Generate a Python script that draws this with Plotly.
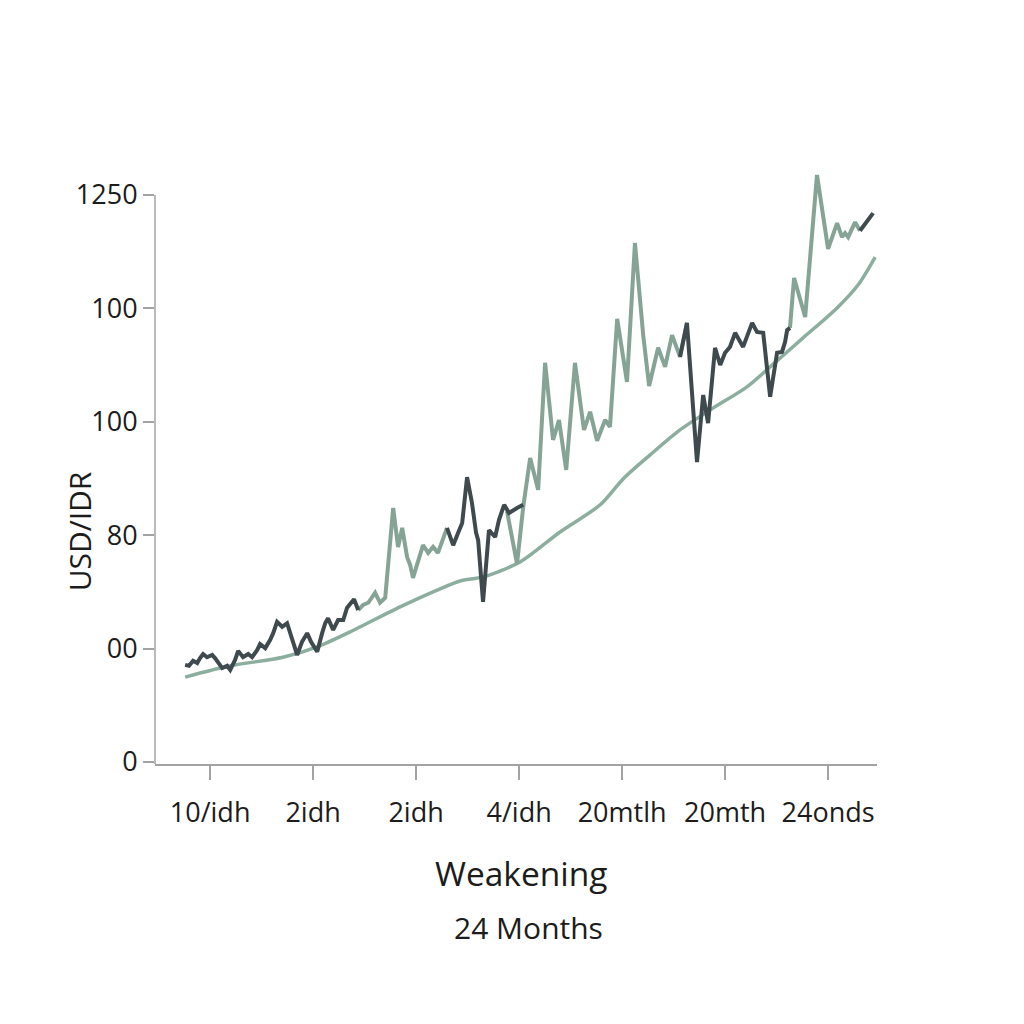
import plotly.graph_objects as go

# ---------------- data ----------------
# x = month index, y = USD/IDR (chart scale)
x_tickvals = [0, 4, 8, 12, 16, 20, 24]
x_ticktext = ["10/idh", "2idh", "2idh", "4/idh", "20mtlh", "20mth", "24onds"]
y_tickvals = [0, 250, 500, 750, 1000, 1250]
y_ticktext = ["0", "00", "80", "100", "100", "1250"]

# smooth trend
trend_x = [-0.97, 0.78, 2.83, 4.16, 5.44, 7.38, 8.82, 9.71, 10.60, 12.04, 13.59, 15.15,
           16.04, 17.09, 18.25, 19.53, 20.85, 21.75, 23.03, 24.35, 25.17, 25.83]
trend_y = [187, 212, 231, 254, 287, 342, 379, 399, 408, 441, 507, 567,
           624, 677, 732, 780, 827, 871, 935, 1001, 1052, 1113]

# rate – dark segments
dark1_x = [-0.97, -0.82, -0.66, -0.50, -0.39, -0.27, -0.12, 0.08, 0.19, 0.31, 0.47, 0.66, 0.78,
           0.97, 1.09, 1.28, 1.48, 1.63, 1.83, 1.94, 2.14, 2.33, 2.45, 2.60, 2.80, 2.99, 3.11,
           3.22, 3.38, 3.57, 3.77, 3.92, 4.16, 4.35, 4.47, 4.58, 4.78, 4.97, 5.17, 5.32, 5.51,
           5.59, 5.75]
dark1_y = [214, 212, 223, 218, 229, 238, 231, 236, 229, 218, 207, 212, 203,
           225, 245, 231, 238, 231, 247, 260, 251, 269, 284, 309, 298, 306, 284,
           262, 236, 265, 284, 265, 243, 284, 306, 317, 291, 313, 313, 340, 353,
           359, 335]
dark2_x = [9.20, 9.44, 9.63, 9.79, 9.98, 10.17, 10.33, 10.41, 10.60, 10.83, 11.07, 11.22,
           11.42, 11.61, 11.92, 12.16]
dark2_y = [516, 478, 505, 527, 628, 571, 505, 489, 353, 511, 496, 534,
           567, 549, 560, 567]
dark3_x = [18.25, 18.52, 18.91, 19.15, 19.34, 19.61, 19.81, 20.00, 20.19, 20.39, 20.70, 21.05,
           21.24, 21.48, 21.75, 22.02, 22.21, 22.33, 22.41, 22.52]
dark3_y = [893, 968, 661, 809, 747, 913, 875, 902, 915, 946, 915, 968,
           948, 946, 805, 902, 904, 926, 952, 957]
dark4_x = [25.24, 25.51, 25.75]
dark4_y = [1171, 1190, 1210]

# rate – light segments
light1_x = [5.75, 5.94, 6.14, 6.41, 6.60, 6.80, 7.11, 7.30, 7.46, 7.65, 7.77, 7.88, 8.27,
            8.47, 8.66, 8.85, 9.20]
light1_y = [335, 346, 351, 373, 351, 362, 560, 474, 516, 452, 434, 406, 478,
            461, 474, 461, 516]
light2_x = [11.53, 11.92, 12.16, 12.43, 12.74, 13.01, 13.32, 13.55, 13.83, 14.17, 14.52, 14.76,
            15.03, 15.34, 15.53, 15.81, 16.19, 16.50, 16.82, 17.05, 17.40, 17.67, 17.94,
            18.25, 18.52]
light2_y = [553, 437, 562, 670, 600, 880, 710, 754, 644, 880, 732, 772,
            708, 754, 739, 977, 838, 1144, 941, 829, 913, 871, 941,
            893, 968]
light3_x = [22.52, 22.68, 23.11, 23.57, 24.00, 24.35, 24.54, 24.66, 24.78, 25.05, 25.24]
light3_y = [957, 1067, 981, 1294, 1131, 1188, 1157, 1166, 1157, 1190, 1171]

x_range = [-2.14, 25.90]
y_range = [-4.4, 1327]

# ---------------- styles ----------------
DARK = "#3e4a4d"
LIGHT = "#86a496"
TREND = "#8cae9f"
AXIS = "#a3a3a3"
TEXT = "#1c1c1c"
FONT = "Open Sans"


def join(*segs):
    xs, ys = [], []
    for i in range(0, len(segs), 2):
        if xs:
            xs.append(None)
            ys.append(None)
        xs.extend(segs[i])
        ys.extend(segs[i + 1])
    return xs, ys


lx, ly = join(light1_x, light1_y, light2_x, light2_y, light3_x, light3_y)
dx, dy = join(dark1_x, dark1_y, dark2_x, dark2_y, dark3_x, dark3_y, dark4_x, dark4_y)

fig = go.Figure()
fig.add_trace(go.Scatter(x=trend_x, y=trend_y, mode="lines",
                         line=dict(color=TREND, width=3.5, shape="spline", smoothing=0.8),
                         hoverinfo="skip"))
fig.add_trace(go.Scatter(x=lx, y=ly, mode="lines", connectgaps=False,
                         line=dict(color=LIGHT, width=4), hoverinfo="skip"))
fig.add_trace(go.Scatter(x=dx, y=dy, mode="lines", connectgaps=False,
                         line=dict(color=DARK, width=4), hoverinfo="skip"))

# y-axis line only up to top tick
fig.add_shape(type="line", xref="paper", yref="y", x0=0, x1=0,
              y0=y_range[0], y1=y_tickvals[-1], line=dict(color=AXIS, width=1.5))

fig.update_layout(
    width=1024, height=1024,
    margin=dict(l=147, r=155, t=152, b=268),
    paper_bgcolor="white", plot_bgcolor="white",
    showlegend=False,
    font=dict(family=FONT, color=TEXT),
    xaxis=dict(range=x_range, tickvals=x_tickvals, ticktext=x_ticktext,
               showgrid=False, zeroline=False, showline=True, linecolor=AXIS, linewidth=1.5,
               ticks="outside", ticklen=14, tickcolor=AXIS, tickwidth=1.5,
               tickfont=dict(size=27, color=TEXT, family=FONT), ticklabelstandoff=10,
               automargin=False),
    yaxis=dict(range=y_range, tickvals=y_tickvals, ticktext=y_ticktext,
               showgrid=False, zeroline=False, showline=False,
               ticks="outside", ticklen=11, tickcolor=AXIS, tickwidth=1.5,
               tickfont=dict(size=27, color=TEXT, family=FONT), ticklabelstandoff=0,
               automargin=False),
    annotations=[
        dict(text="USD/IDR", xref="paper", yref="paper", x=-0.104, y=0.385,
             xanchor="center", yanchor="middle", textangle=-90, showarrow=False,
             font=dict(size=30, color=TEXT, family=FONT)),
        dict(text="Weakening", xref="paper", yref="paper", x=0.508, y=-0.180,
             xanchor="center", yanchor="middle", showarrow=False,
             font=dict(size=33.5, color=TEXT, family=FONT)),
        dict(text="24 Months", xref="paper", yref="paper", x=0.517, y=-0.270,
             xanchor="center", yanchor="middle", showarrow=False,
             font=dict(size=30, color=TEXT, family=FONT)),
    ],
)

fig.write_html("out.html")
